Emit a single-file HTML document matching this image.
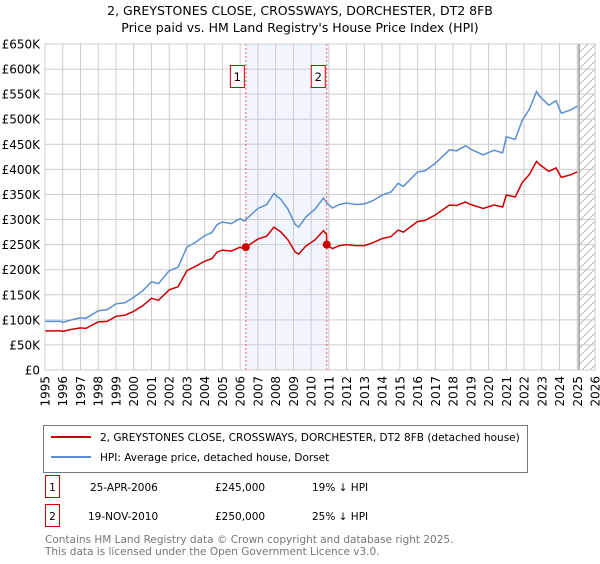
<!DOCTYPE html>
<html><head><meta charset="utf-8"><style>
body{margin:0;background:#fff;width:600px;height:560px;overflow:hidden;font-family:"DejaVu Sans","Liberation Sans",sans-serif}
svg text{font-family:"DejaVu Sans","Liberation Sans",sans-serif}
</style></head><body>
<svg id="chart" width="600" height="560" xmlns="http://www.w3.org/2000/svg">
<defs><pattern id="hatch" patternUnits="userSpaceOnUse" width="8" height="8"><path d="M0,8 L8,0" stroke="#bbb" stroke-width="1"/></pattern></defs>
<text x="300" y="15" text-anchor="middle" font-size="12.5" fill="#000">2, GREYSTONES CLOSE, CROSSWAYS, DORCHESTER, DT2 8FB</text>
<text x="300" y="32" text-anchor="middle" font-size="12.5" fill="#000">Price paid vs. HM Land Registry's House Price Index (HPI)</text>
<g id="plot"></g>
<rect x="43.5" y="425.5" width="484" height="47" fill="#fff" stroke="#777"/>
<line x1="51" y1="437" x2="91" y2="437" stroke="#cc0000" stroke-width="2"/>
<text x="100" y="441" font-size="10.5">2, GREYSTONES CLOSE, CROSSWAYS, DORCHESTER, DT2 8FB (detached house)</text>
<line x1="51" y1="457" x2="91" y2="457" stroke="#5b8fd1" stroke-width="2"/>
<text x="100" y="461" font-size="10.5">HPI: Average price, detached house, Dorset</text>
<g>
<rect x="45.5" y="475.5" width="14" height="22" fill="#fff" stroke="#cc0000"/>
<text x="52.5" y="491" text-anchor="middle" font-size="10.5">1</text>
<text x="90" y="491" font-size="10.5">25-APR-2006</text>
<text x="215" y="491" font-size="10.5">£245,000</text>
<text x="312" y="491" font-size="10.5">19% ↓ HPI</text>
</g>
<g>
<rect x="45.5" y="504.5" width="14" height="22" fill="#fff" stroke="#cc0000"/>
<text x="52.5" y="520" text-anchor="middle" font-size="10.5">2</text>
<text x="88" y="520" font-size="10.5">19-NOV-2010</text>
<text x="215" y="520" font-size="10.5">£250,000</text>
<text x="312" y="520" font-size="10.5">25% ↓ HPI</text>
</g>
<text x="45" y="543" font-size="10.5" fill="#777">Contains HM Land Registry data © Crown copyright and database right 2025.</text>
<text x="45" y="555" font-size="10.5" fill="#777">This data is licensed under the Open Government Licence v3.0.</text>
</svg>
<script>
const hpiYears=[1995.0,1995.9,1996.0,1996.5,1997.0,1997.3,1998.0,1998.5,1999.0,1999.5,2000.0,2000.5,2001.0,2001.4,2002.0,2002.5,2003.0,2003.5,2004.0,2004.4,2004.7,2005.0,2005.5,2006.0,2006.2,2006.32,2007.0,2007.5,2007.9,2008.3,2008.7,2009.1,2009.3,2009.7,2010.2,2010.7,2010.87,2010.88,2011.2,2011.6,2012.0,2012.5,2013.0,2013.5,2014.0,2014.5,2014.9,2015.2,2016.0,2016.4,2017.0,2017.8,2018.2,2018.7,2019.0,2019.7,2020.3,2020.8,2021.0,2021.5,2021.9,2022.3,2022.7,2022.9,2023.4,2023.8,2024.1,2024.6,2025.0];
const hpiValues=[97,97,95,100,104,103,118,120,132,134,145,158,176,172,198,205,245,255,268,274,290,295,292,302,297,300,322,330,352,340,320,290,285,305,320,343,334,333,323,330,333,330,331,338,349,355,372,366,395,397,412,439,437,447,440,429,438,433,465,460,498,520,555,545,528,537,512,518,526];
const priceValues=[78,78,77,81,84,83,96,97,107,109,117,128,143,139,160,166,198,207,217,222,235,239,237,245,241,245,261,267,285,275,259,235,231,247,259,278,270,250,242,248,250,248,248,254,262,266,279,275,296,298,309,329,328,335,330,322,329,325,349,345,374,390,416,409,396,403,384,389,395];
const yTicks=[0,50,100,150,200,250,300,350,400,450,500,550,600,650];
const yTickLabels=["£0","£50K","£100K","£150K","£200K","£250K","£300K","£350K","£400K","£450K","£500K","£550K","£600K","£650K"];
const xTicks=[1995,1996,1997,1998,1999,2000,2001,2002,2003,2004,2005,2006,2007,2008,2009,2010,2011,2012,2013,2014,2015,2016,2017,2018,2019,2020,2021,2022,2023,2024,2025,2026];
const saleYears=[2006.32,2010.88];
const salePrices=[245,250];
const saleLabels=["1","2"];

const L=45,R=595,T=44,B=370,X0=1995,X1=2026,YMAX=650;
const xs=v=>L+(v-X0)/(X1-X0)*(R-L);
const ys=v=>B-v/YMAX*(B-T);
const NS="http://www.w3.org/2000/svg";
const g=document.getElementById('plot');
function mk(tag,attrs,parent){const e=document.createElementNS(NS,tag);for(const k in attrs)e.setAttribute(k,attrs[k]);(parent||g).appendChild(e);return e;}

const bg=mk('rect',{x:L,y:T,width:R-L,height:B-T,fill:'#fff'});


const shade=mk('rect',{x:xs(saleYears[0]),y:T,width:xs(saleYears[1])-xs(saleYears[0]),height:B-T,fill:'#eef3fc',opacity:0.8});


const hatch=mk('rect',{x:xs(2025.1),y:T,width:R-xs(2025.1),height:B-T,fill:'url(#hatch)'});



xTicks.forEach(t=>{
  const l=mk('line',{x1:xs(t),y1:T,x2:xs(t),y2:B,stroke:'#ccc','stroke-width':1});
  
  
  const tx=mk('text',{x:0,y:0,'font-size':12,'text-anchor':'end',transform:`translate(${xs(t)+4.5},${B+6}) rotate(-90)`});
  tx.textContent=t;
  
  
});
yTicks.forEach((t,i)=>{
  const l=mk('line',{x1:L,y1:ys(t),x2:R,y2:ys(t),stroke:'#ccc','stroke-width':1});
  
  
  const tx=mk('text',{x:L-5,y:ys(t)+4.5,'font-size':12,'text-anchor':'end'});
  tx.textContent=yTickLabels[i];
  
  
});
const vline=mk('line',{x1:xs(2025.1),y1:T,x2:xs(2025.1),y2:B,stroke:'#999','stroke-width':1.5});



saleYears.forEach((y,i)=>{
  const l=mk('line',{x1:xs(y),y1:T,x2:xs(y),y2:B,stroke:'#e06060','stroke-dasharray':'2,2','stroke-width':1});
  
  
});

function path(vals,color,name){
  const d=hpiYears.map((y,i)=>(i?'L':'M')+xs(y).toFixed(1)+','+ys(vals[i]).toFixed(1)).join(' ');
  const p=mk('path',{d,fill:'none',stroke:color,'stroke-width':1.5});
  
  
}
path(hpiValues,'#5b8fd1','hpi-line');
path(priceValues,'#cc0000','price-paid-line');

saleYears.forEach((y,i)=>{
  const c=mk('circle',{cx:xs(y),cy:ys(salePrices[i]),r:4,fill:'#cc0000'});
  
  
  const bx=mk('rect',{x:xs(y)-15.5,y:65.5,width:14,height:22,fill:'#fff',stroke:'#cc0000'});
  
  
  const t=mk('text',{x:xs(y)-8.5,y:81,'font-size':11.5,'text-anchor':'middle'});
  t.textContent=saleLabels[i];
  
  
});
const border=mk('rect',{x:L,y:T,width:R-L,height:B-T,fill:'none',stroke:'#ccc'});


</script>
</body></html>
